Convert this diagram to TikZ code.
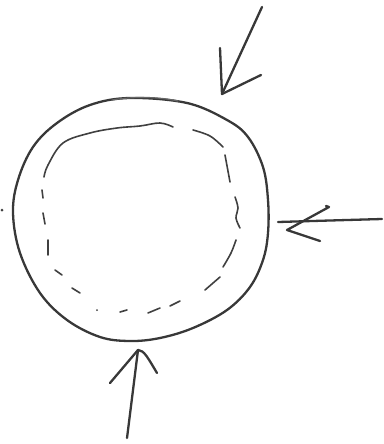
\documentclass[tikz,border=0pt]{standalone}
\begin{document}
\begin{tikzpicture}[x=1pt,y=-1pt,
  ink/.style={draw=black!78,line width=2.3pt,line cap=round,line join=round},
  thinink/.style={draw=black!75,line width=1.6pt,line cap=round,line join=round}]
\useasboundingbox (0,0) rectangle (383,444);
% outer circle
\draw[ink] plot[smooth cycle,tension=0.6] coordinates{
 (130,98) (187,103) (227,120) (248,137) (263,167) (268,200) (268,233)
 (263,260) (250,287) (227,310) (193,328) (160,338) (130,341) (100,337)
 (67,320) (40,293) (20,253) (13,213) (18,180) (33,147) (57,123) (90,105)};
\draw[thinink,draw=black!60,line width=1.2pt] (112,100) .. controls (135,96) and (160,97) .. (178,101);
% inner dashed outline
\draw[thinink] plot[smooth,tension=0.6] coordinates{(44,177) (48,165) (63,143) (90,133) (117,128) (140,126) (160,123) (173,127)};
\draw[thinink] (42,190) -- (43,198);
\draw[thinink] (43,213) -- (45,224);
\draw[thinink] (48,240) -- (48,255);
\draw[thinink] (55,270) -- (62,275);
\draw[thinink] (72,288) -- (80,293);
\fill[black!75] (97,310) circle (1pt);
\draw[thinink] (120,312) -- (127,310);
\draw[thinink] (148,313) -- (160,308);
\draw[thinink] (170,306) -- (180,301);
\draw[thinink] (205,290) -- (220,277);
\draw[thinink] plot[smooth,tension=0.6] coordinates{(223,267) (231,253) (236,240)};
\draw[thinink] plot[smooth,tension=0.6] coordinates{(235,197) (238,208) (236,218) (240,228)};
\draw[thinink] (225,155) -- (230,182);
\draw[thinink] plot[smooth,tension=0.6] coordinates{(193,130) (210,136) (223,147)};
% top-right arrow
\coordinate (t0) at (262,7);
\coordinate (t1) at (222,94);
\draw[ink] (t0) -- (t1);
\draw[ink] (220,48) -- (222,94) -- (261,75);
% right arrow
\coordinate (r0) at (382,219);
\coordinate (r1) at (278,222);
\draw[ink] (r0) -- (r1);
\draw[ink] (326,206) -- (329,207) -- (287,230) -- (320,241);
% bottom arrow
\coordinate (b0) at (127,438);
\coordinate (b1) at (138,350);
\draw[ink] (b0) -- (b1);
\draw[ink] (110,383) -- (138,350) .. controls (144,350) and (148,358) .. (157,373);
% left mark
\fill[black!75] (2,210) circle (1.5pt);
\end{tikzpicture}
\end{document}
